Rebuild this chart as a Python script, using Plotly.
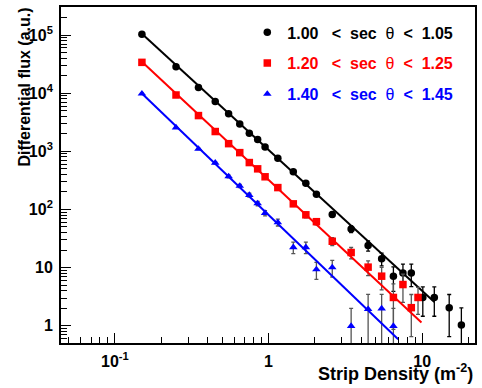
import plotly.graph_objects as go

# ---------------- data ----------------
x_bins = [0.15, 0.25, 0.35, 0.45, 0.55, 0.65, 0.75, 0.85, 0.95, 1.15,
          1.45, 1.75, 2.05, 2.6, 3.45, 4.45, 5.45, 6.5, 7.5, 8.5]

black_x = x_bins + [10.1, 12.0, 15.0, 18.0]
black_y = [1.03e5, 2.86e4, 1.25e4, 7.2e3, 4.45e3, 2.95e3, 2.05e3, 1.6e3, 1.19e3, 757,
           446, 283, 183, 82, 46, 24, 14.2, 7.1, 8.1, 8.1, 3.06, 3.06, 2.05, 1.03]
black_err = [2e3, 6e2, 2.5e2, 1.4e2, 90, 60, 45, 38, 30, 22,
             15, 10, 8, 8, 6, 4.7, 3.5, 3.2, 3.4, 3.4, 1.6, 1.6, 1.4, 1.0]

red_x = x_bins + [9.4]
red_y = [3.39e4, 9.31e3, 4.12e3, 2.19e3, 1.355e3, 950, 641, 500, 365, 238,
         125, 81, 61.7, 28.4, 18.2, 10.2, 7.13, 3.07, 5.12, 2.05, 3.07]
red_err = [7e2, 2e2, 1e2, 60, 45, 35, 28, 24, 20, 15,
           11, 9, 7.5, 4.5, 4.0, 2.9, 3.0, 2.2, 2.6, 1.4, 1.5]

blue_x = x_bins[:18]
blue_y = [9.8e3, 2.56e3, 1.10e3, 636, 370, 254, 177, 127, 86.7, 60,
          22.4, 22.4, 9.3, 10.1, 0.99, 1.93, 1.98, 0.99]
blue_err = [2e2, 50, 33, 25, 19, 16, 13, 11, 9, 8,
            5, 5, 3, 3.2, 1.0, 1.55, 1.5, 1.0]

# power-law fit lines (end points)
black_fit_x = [0.15, 12.0]
black_fit_y = [1.05e5, 2.57]
red_fit_x = [0.15, 9.9]
red_fit_y = [3.48e4, 1.14]
blue_fit_x = [0.15, 6.98]
blue_fit_y = [9.9e3, 0.586]

labels = ["1.00", "1.05"], ["1.20", "1.25"], ["1.40", "1.45"]

y_tickvals = [1, 10, 100, 1e3, 1e4, 1e5]
y_ticktext = ["1", "10", "10<sup>2</sup>", "10<sup>3</sup>", "10<sup>4</sup>", "10<sup>5</sup>"]
x_tickvals = [0.1, 1, 10]
x_ticktext = ["10<sup>-1</sup>", "1", "10"]

FONT = "Liberation Sans, Arial, Helvetica, sans-serif"

fig = go.Figure()

series = [
    (black_x, black_y, black_err, black_fit_x, black_fit_y, "#000000", "#000000", "circle", labels[0]),
    (red_x, red_y, red_err, red_fit_x, red_fit_y, "#ff0000", "#555555", "square", labels[1]),
    (blue_x, blue_y, blue_err, blue_fit_x, blue_fit_y, "#0000ff", "#555555", "triangle-up", labels[2]),
]

NB = "\u00a0"
for i, (x, y, e, fx, fy, col, ecol, sym, lab) in enumerate(series):
    name = ('<span style="color:%s"><b>%s%s&lt;%ssec</b>%sθ%s<b>&lt;%s%s</b></span>'
            % (col, lab[0], NB * 3, NB * 2, NB * 2, NB * 2, NB * 2, lab[1]))
    fig.add_trace(go.Scatter(
        x=x, y=y, mode="markers", name=name, legendgroup="g%d" % i,
        marker=dict(symbol=sym, size=7.5, color=col, line=dict(width=0)),
        error_y=dict(type="data", array=e, visible=True, color=ecol, thickness=1.3, width=2),
    ))
    fig.add_trace(go.Scatter(
        x=fx, y=fy, mode="lines", showlegend=False, hoverinfo="skip",
        line=dict(color=col, width=2),
    ))

y_minor = [m * 10 ** k for k in range(-1, 6) for m in range(2, 10)]
x_minor = [m * 10.0 ** k for k in range(-2, 2) for m in range(2, 10)]

fig.update_layout(
    width=482, height=388,
    margin=dict(l=61, r=6, t=5, b=45),
    paper_bgcolor="white", plot_bgcolor="white",
    font=dict(family=FONT, size=15, color="black"),
    showlegend=True,
    legend=dict(x=0.45, y=0.975, xanchor="left", yanchor="top",
                bgcolor="rgba(0,0,0,0)", traceorder="grouped", tracegroupgap=7,
                font=dict(family=FONT, size=16), itemclick=False),
    xaxis=dict(type="log", range=[-1.3506, 1.344], showgrid=False, zeroline=False,
               showline=True, linecolor="black", linewidth=1.8, mirror=True,
               ticks="inside", ticklen=10, tickwidth=1.2, tickcolor="black",
               tickmode="array", tickvals=x_tickvals, ticktext=x_ticktext,
               tickfont=dict(family=FONT, size=16, weight="bold"),
               ticklabelstandoff=3,
               minor=dict(tickmode="array", tickvals=x_minor, ticks="inside",
                          ticklen=6, tickwidth=1.2, tickcolor="black", showgrid=False)),
    yaxis=dict(type="log", range=[-0.296, 5.482], showgrid=False, zeroline=False,
               showline=True, linecolor="black", linewidth=1.8, mirror=True,
               ticks="inside", ticklen=10, tickwidth=1.2, tickcolor="black",
               tickmode="array", tickvals=y_tickvals, ticktext=y_ticktext,
               tickfont=dict(family=FONT, size=16, weight="bold"),
               ticklabelstandoff=3,
               minor=dict(tickmode="array", tickvals=y_minor, ticks="inside",
                          ticklen=6, tickwidth=1.2, tickcolor="black", showgrid=False)),
    annotations=[
        dict(text="<b>Differential flux (a.u.)</b>", textangle=-90,
             xref="paper", yref="paper", x=-37 / 415, y=1.003,
             xanchor="center", yanchor="top", showarrow=False,
             font=dict(family=FONT, size=16)),
        dict(text="<b>Strip Density (m<sup>-2</sup>)</b>",
             xref="paper", yref="paper", x=1.0, y=-30 / 338,
             xanchor="right", yanchor="middle", showarrow=False,
             font=dict(family=FONT, size=18)),
    ],
)

fig.write_html("out.html")
